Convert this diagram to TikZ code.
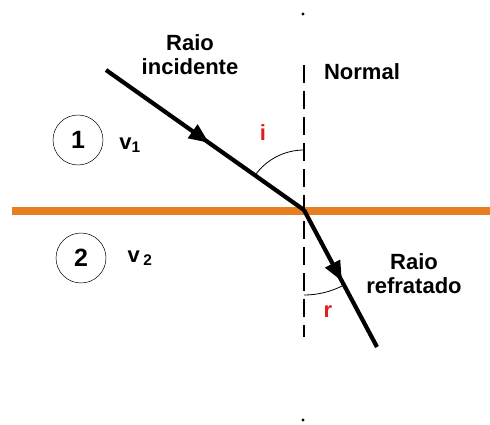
\documentclass[tikz,border=0pt]{standalone}
\usepackage{fontspec}
\setmainfont{Liberation Sans}
\usetikzlibrary{arrows.meta,decorations.markings}

\definecolor{interfaceorange}{RGB}{230,126,34}
\definecolor{anglered}{RGB}{220,30,30}

\begin{document}
\begin{tikzpicture}[x=1pt, y=1pt,
    label text/.style={font=\fontsize{22}{24}\selectfont\bfseries, align=center, inner sep=0pt},
    ray/.style={line width=4.2pt, postaction={decorate},
      decoration={markings, mark=at position 0.52 with {\arrow{Triangle[length=20pt,width=16pt]}}}},
    normal line/.style={line width=2.8pt, dash pattern=on 18pt off 8pt},
    medium/.style={draw, circle, line width=0.5pt, minimum size=50pt, inner sep=0pt,
      font=\fontsize{25}{25}\selectfont\bfseries}]
  \useasboundingbox (0,0) rectangle (490,424);

  % points
  \coordinate (O) at (304,214);
  \coordinate (A) at (106,354);
  \coordinate (B) at (377,77);
  \coordinate (ntop) at (304,359);
  \coordinate (nbot) at (304,87);
  \coordinate (wl) at (12,213);
  \coordinate (wr) at (490,213);

  % interface
  \draw[interfaceorange, line width=8pt] (wl) -- (wr);

  % normal
  \draw[normal line] (ntop) -- (nbot);
  \fill (303,410) circle (1.6pt);
  \fill (303,4) circle (1.6pt);

  % rays
  \draw[ray] (A) -- (O);
  \draw[ray] (O) -- (B);

  % angles
  \draw[line width=0.8pt] (O) ++(90:60) arc[start angle=90, end angle=144.7, radius=60];
  \draw[line width=0.8pt] (O) ++(-90:85) arc[start angle=-90, end angle=-62, radius=85];
  \node[label text, text=anglered] (ilabel) at (263,291) {i};
  \node[label text, text=anglered] (rlabel) at (328,112) {r};

  % media
  \node[medium] (med1) at (78,284) {1};
  \node[label text] (v1) at (130,279) {v\textsubscript{1}};
  \node[medium] (med2) at (81,166) {2};
  \node[label text] (v2) at (140,166) {v\,\textsubscript{2}};

  % labels
  \node[label text] (inc) at (190,369) {Raio\\incidente};
  \node[label text] (nlabel) at (362,352) {Normal};
  \node[label text] (refr) at (414,150) {Raio\\refratado};
\end{tikzpicture}
\end{document}
